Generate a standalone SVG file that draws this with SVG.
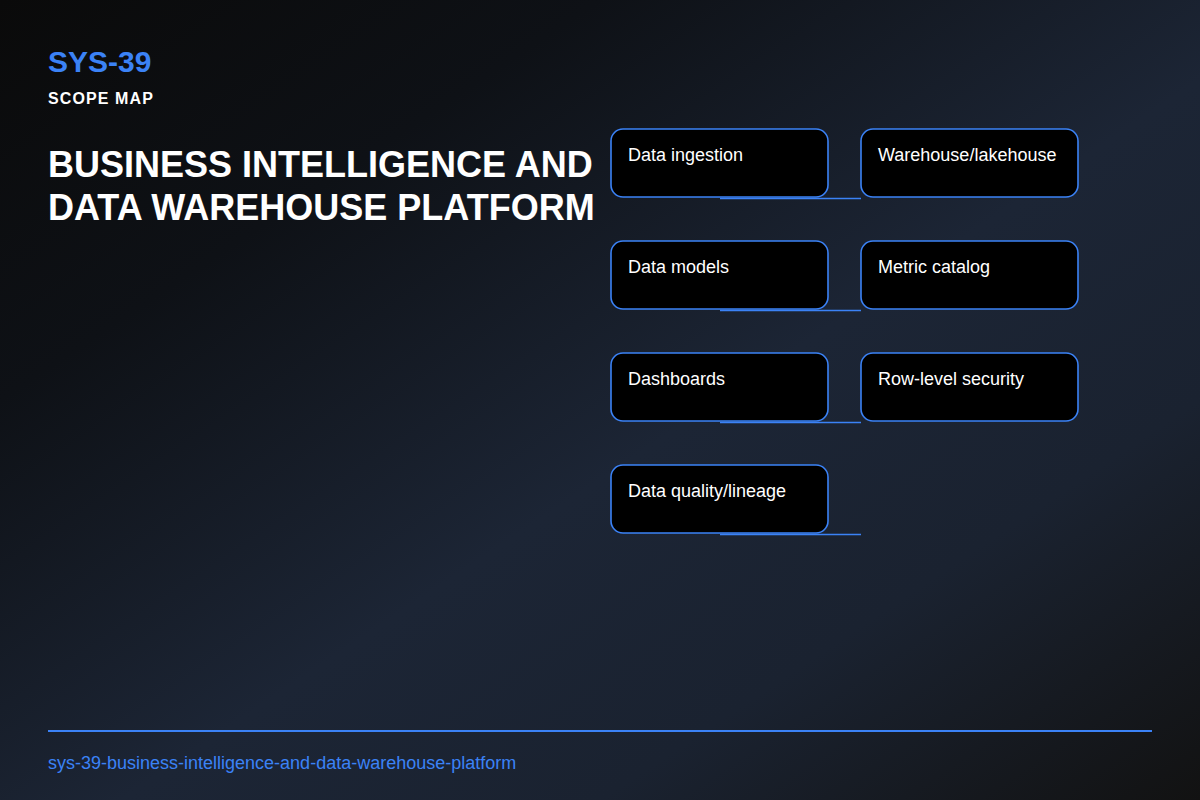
<svg xmlns="http://www.w3.org/2000/svg" width="1200" height="800" viewBox="0 0 1200 800">
  <defs>
    <linearGradient id="bg" x1="0" y1="0" x2="1" y2="1">
      <stop offset="0" stop-color="#0a0a0a"/>
      <stop offset="0.25" stop-color="#0e1116"/>
      <stop offset="0.55" stop-color="#1c2535"/>
      <stop offset="0.75" stop-color="#1a2230"/>
      <stop offset="1" stop-color="#121212"/>
    </linearGradient>
    <style>
      .box { fill: #000000; stroke: #3b82f6; stroke-width: 1.6; }
      .lbl { font-family: "Liberation Sans", Arial, sans-serif; font-size: 18px; fill: #ffffff; }
      .conn { stroke: #3b82f6; stroke-width: 1.6; fill: none; }
      .title { font-family: "Liberation Sans", Arial, sans-serif; font-weight: bold; font-size: 36px; fill: #ffffff; }
    </style>
  </defs>
  <rect width="1200" height="800" fill="url(#bg)"/>

  <g id="header">
    <text x="48" y="72" font-family="Liberation Sans, Arial, sans-serif" font-weight="bold" font-size="30" fill="#3b82f6">SYS-39</text>
    <text x="48" y="104" font-family="Liberation Sans, Arial, sans-serif" font-weight="bold" font-size="16" letter-spacing="1.1" fill="#ffffff">SCOPE MAP</text>
    <text class="title" x="48" y="177">BUSINESS INTELLIGENCE AND</text>
    <text class="title" x="48" y="220">DATA WAREHOUSE PLATFORM</text>
  </g>

  <g id="connectors">
    <line class="conn" x1="720" y1="198.5" x2="861" y2="198.5"/>
    <line class="conn" x1="720" y1="310.5" x2="861" y2="310.5"/>
    <line class="conn" x1="720" y1="422.5" x2="861" y2="422.5"/>
    <line class="conn" x1="720" y1="534.5" x2="861" y2="534.5"/>
  </g>

  <g id="node-data-ingestion">
    <rect class="box" x="611" y="129" width="217" height="68" rx="12"/>
    <text class="lbl" x="628" y="161">Data ingestion</text>
  </g>
  <g id="node-warehouse-lakehouse">
    <rect class="box" x="861" y="129" width="217" height="68" rx="12"/>
    <text class="lbl" x="878" y="161">Warehouse/lakehouse</text>
  </g>
  <g id="node-data-models">
    <rect class="box" x="611" y="241" width="217" height="68" rx="12"/>
    <text class="lbl" x="628" y="273">Data models</text>
  </g>
  <g id="node-metric-catalog">
    <rect class="box" x="861" y="241" width="217" height="68" rx="12"/>
    <text class="lbl" x="878" y="273">Metric catalog</text>
  </g>
  <g id="node-dashboards">
    <rect class="box" x="611" y="353" width="217" height="68" rx="12"/>
    <text class="lbl" x="628" y="385">Dashboards</text>
  </g>
  <g id="node-row-level-security">
    <rect class="box" x="861" y="353" width="217" height="68" rx="12"/>
    <text class="lbl" x="878" y="385">Row-level security</text>
  </g>
  <g id="node-data-quality-lineage">
    <rect class="box" x="611" y="465" width="217" height="68" rx="12"/>
    <text class="lbl" x="628" y="497">Data quality/lineage</text>
  </g>

  <g id="footer">
    <line x1="48" y1="731" x2="1152" y2="731" stroke="#3b82f6" stroke-width="2"/>
    <text x="48" y="769" font-family="Liberation Sans, Arial, sans-serif" font-size="18" fill="#3b82f6">sys-39-business-intelligence-and-data-warehouse-platform</text>
  </g>
</svg>
